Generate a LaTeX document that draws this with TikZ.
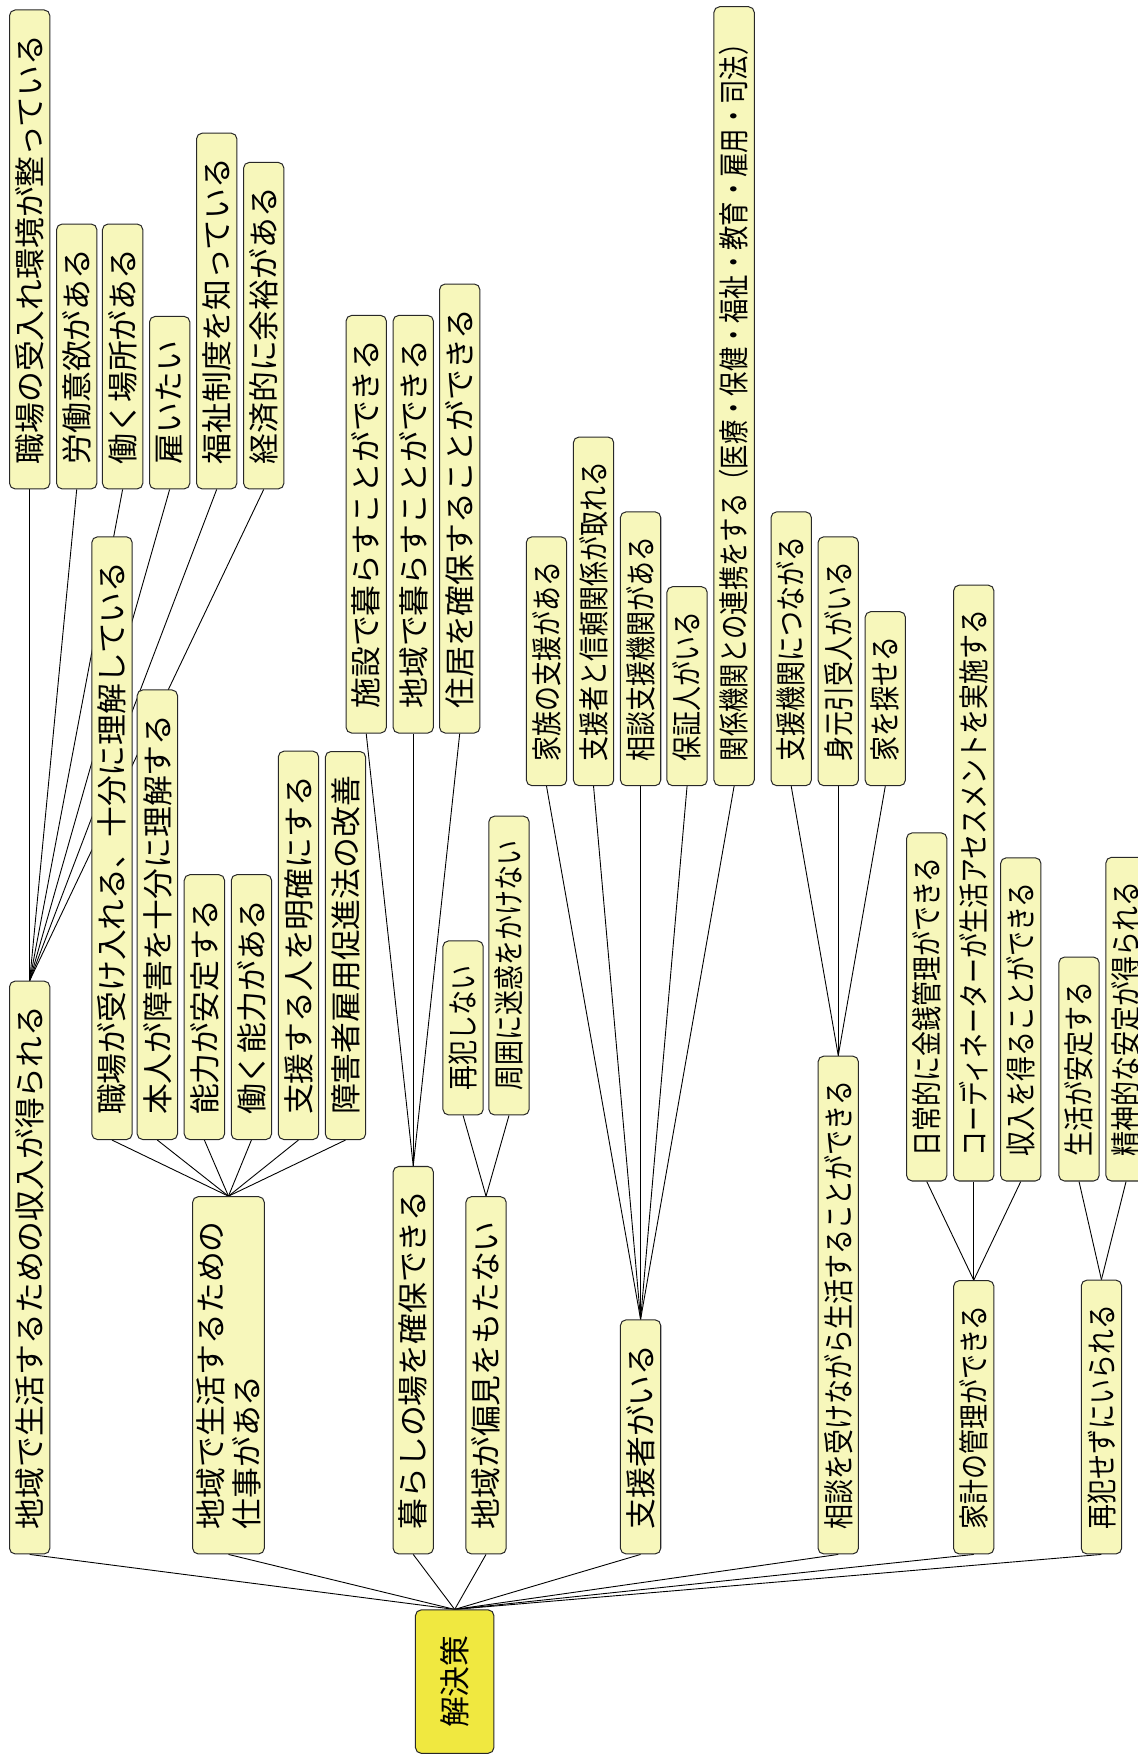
\documentclass[tikz,border=0pt]{standalone}
\usepackage{fontspec}
\usepackage{graphicx}
\newfontfamily\jpfont{Noto Sans CJK JP}
\usetikzlibrary{backgrounds}
\definecolor{notefill}{RGB}{247,247,187}
\definecolor{rootfill}{RGB}{240,232,64}
\definecolor{noteline}{RGB}{40,40,40}
\newcommand{\squeezed}[1]{\scalebox{0.81}[1]{#1}}

\begin{document}
\begin{tikzpicture}[x=1pt,y=-1pt,
  note/.style={rectangle,rounded corners=5pt,draw=noteline,fill=notefill,line width=0.9pt,rotate=90,anchor=west,font=\jpfont\fontsize{27.5}{32}\selectfont,inner xsep=22pt,inner ysep=0pt,minimum height=36pt},
  rootnote/.style={note,fill=rootfill,minimum width=128pt,minimum height=70pt},
  link/.style={draw=black,line width=0.8pt}]
  \useasboundingbox (0,0) rectangle (1016,1568);

  % root
  \node[rootnote] (root) at (406,1566) {解決策};

  % first level
  \node[note] (income) at (26.5,1388) {地域で生活するための収入が得られる};
  \node[note,align=left,minimum height=64pt] (work) at (204,1388) {地域で生活するための\\仕事がある};
  \node[note] (place) at (369,1388) {暮らしの場を確保できる};
  \node[note] (bias) at (434,1388) {地域が偏見をもたない};
  \node[note] (helper) at (572,1388) {支援者がいる};
  \node[note] (consult) at (748.5,1388) {\squeezed{相談を受けながら生活することができる}};
  \node[note] (budget) at (869.5,1388) {\squeezed{家計の管理ができる}};
  \node[note] (norepeat) at (983.5,1388) {\squeezed{再犯せずにいられる}};

  % income
  \node[note] (inc1) at (26.5,437) {職場の受入れ環境が整っている};
  \node[note] (inc2) at (68.5,437) {労働意欲がある};
  \node[note] (inc3) at (109.5,437) {働く場所がある};
  \node[note] (inc4) at (151.5,437) {雇いたい};
  \node[note] (inc5) at (193.5,437) {福祉制度を知っている};
  \node[note] (inc6) at (235.5,437) {経済的に余裕がある};

  % work
  \node[note] (work1) at (100,1018) {職場が受け入れる、十分に理解している};
  \node[note] (work2) at (140.5,1018) {本人が障害を十分に理解する};
  \node[note] (work3) at (182.5,1018) {能力が安定する};
  \node[note] (work4) at (224.5,1018) {働く能力がある};
  \node[note] (work5) at (266.5,1018) {支援する人を明確にする};
  \node[note] (work6) at (308.5,1018) {障害者雇用促進法の改善};

  % place
  \node[note] (place1) at (327,655) {施設で暮らすことができる};
  \node[note] (place2) at (369,655) {地域で暮らすことができる};
  \node[note] (place3) at (410.5,655) {住居を確保することができる};

  % bias
  \node[note] (bias1) at (413.5,996) {\squeezed{再犯しない}};
  \node[note] (bias2) at (454.5,996) {\squeezed{周囲に迷惑をかけない}};

  % helper
  \node[note] (help1) at (488,702) {\squeezed{家族の支援がある}};
  \node[note] (help2) at (530,702) {\squeezed{支援者と信頼関係が取れる}};
  \node[note] (help3) at (572,702) {\squeezed{相談支援機関がある}};
  \node[note] (help4) at (613.5,702) {\squeezed{保証人がいる}};
  \node[note] (help5) at (655.5,702) {\scalebox{0.79}[1]{関係機関との連携をする（医療・保健・福祉・教育・雇用・司法）}};

  % consult
  \node[note] (cons1) at (706.5,702) {\squeezed{支援機関につながる}};
  \node[note] (cons2) at (748.5,702) {\squeezed{身元引受人がいる}};
  \node[note] (cons3) at (790.5,702) {\squeezed{家を探せる}};

  % budget
  \node[note] (bud1) at (827.5,1055) {\squeezed{日常的に金銭管理ができる}};
  \node[note] (bud2) at (869.5,1055) {\squeezed{コーディネーターが生活アセスメントを実施する}};
  \node[note] (bud3) at (911.5,1055) {\squeezed{収入を得ることができる}};

  % norepeat
  \node[note] (nor1) at (963.5,1055) {\squeezed{生活が安定する}};
  \node[note] (nor2) at (1005.5,1055) {\squeezed{精神的な安定が得られる}};

  \begin{pgfonlayer}{background}
    \fill[white] (0,0) rectangle (1016,1568);
    \foreach \n in {income,work,place,bias,helper,consult,budget,norepeat}
      \draw[link] (root.east) -- (\n.west);
    \foreach \n in {inc1,inc2,inc3,inc4,inc5,inc6}
      \draw[link] (income.east) -- (\n.west);
    \foreach \n in {work1,work2,work3,work4,work5,work6}
      \draw[link] (work.east) -- (\n.west);
    \foreach \n in {place1,place2,place3}
      \draw[link] (place.east) -- (\n.west);
    \foreach \n in {bias1,bias2}
      \draw[link] (bias.east) -- (\n.west);
    \foreach \n in {help1,help2,help3,help4,help5}
      \draw[link] (helper.east) -- (\n.west);
    \foreach \n in {cons1,cons2,cons3}
      \draw[link] (consult.east) -- (\n.west);
    \foreach \n in {bud1,bud2,bud3}
      \draw[link] (budget.east) -- (\n.west);
    \foreach \n in {nor1,nor2}
      \draw[link] (norepeat.east) -- (\n.west);
  \end{pgfonlayer}
\end{tikzpicture}
\end{document}
